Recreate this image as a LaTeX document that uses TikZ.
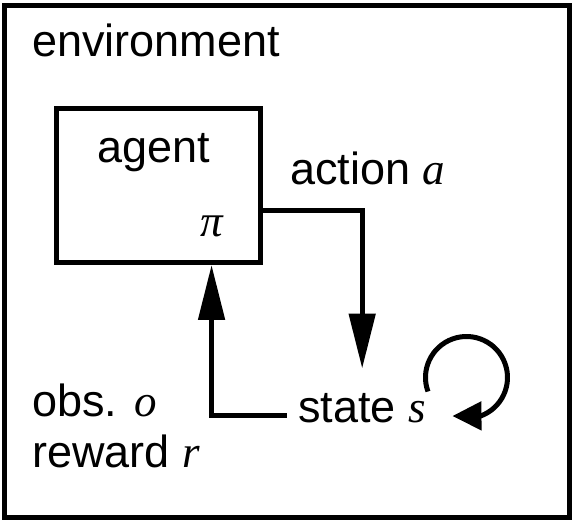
\documentclass[tikz,border=0pt]{standalone}
\usepackage{fontspec}
\setmainfont{Liberation Sans}
\newfontfamily\varfont{Liberation Serif}
\newcommand{\itvar}[1]{{\varfont\itshape #1}}
\usepackage{tikz}
\usetikzlibrary{arrows.meta,bending}
\usetikzlibrary{positioning}
\tikzstyle{box} = [draw, rectangle, line width=2.5pt, inner sep=0pt]
\tikzstyle{lbl} = [anchor=base west, inner sep=0pt]
\tikzstyle{line} = [draw, line width=2.5pt, -{Triangle[length=27.5pt, width=13pt]}]
\tikzstyle{loopline} = [draw, line width=2.5pt, -{Triangle[length=14.5pt, width=14pt]}]

\begin{document}
\begin{tikzpicture}[x=0.5pt, y=0.5pt, font=\fontsize{22.5}{27}\selectfont]
  \useasboundingbox (0,0) rectangle (575,525);
  % Place nodes
  \node [box, minimum width=282.5pt, minimum height=256pt] (env) at (287.5,263.5) {};
  \node [lbl] (envlabel) at (32,468) {environment};
  \node [box, minimum width=102.25pt, minimum height=76.75pt] (agent) at (158.75,339.25) {};
  \node [lbl] (agentlabel) at (97,362) {agent};
  \node [lbl] (policy) at (200,288) {\itvar{π}};
  \node [lbl] (action) at (290,340) {action \itvar{a}};
  \node [lbl, inner sep=5.5pt] (state) at (287,102) {state \itvar{s}};
  \node [lbl] (obs) at (32,108) {obs. \itvar{o}};
  \node [lbl] (reward) at (32,57) {reward \itvar{r}};
  \coordinate (loop) at (466.5,147.5);

  % Draw edges
  % the down arrow stops a little above the state label
  \path [line] ([yshift=-12.6pt]agent.east) -| ([yshift=7pt]state.north);
  \path [line] ([yshift=3.75pt]state.base west) -| ([xshift=26.4pt]agent.south);
  \path [loopline] ([shift={(200:41)}]loop) arc [start angle=200, end angle=-110, radius=41];
\end{tikzpicture}
\end{document}
